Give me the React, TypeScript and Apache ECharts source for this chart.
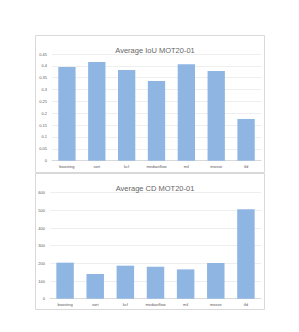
import React, { useEffect, useRef } from "react";
import * as echarts from "echarts";

const categories = ["boosting", "sort", "kcf", "medianflow", "mil", "mosse", "tld"];
const iouValues = [0.395, 0.416, 0.383, 0.336, 0.407, 0.378, 0.176];
const cdValues = [204, 140, 187, 181, 166, 202, 506];
const iouTitle = "Average IoU MOT20-01";
const cdTitle = "Average CD MOT20-01";

const barColor = "#8fb6e3";
const textColor = "#595959";
const font = "Liberation Sans";

export default function App() {
  const ref = useRef<HTMLDivElement>(null);
  useEffect(() => {
    if (!ref.current) return;
    const chart = echarts.init(ref.current, null, { renderer: "svg" });
    const axisLabel = { fontSize: 4, color: textColor, fontFamily: font };
    const titleStyle = { fontSize: 7.5, fontWeight: "normal", color: "#666666", fontFamily: font };
    chart.setOption({
      animation: false,
      backgroundColor: "#ffffff",
      title: [
        { text: iouTitle, left: 150, top: 41, textAlign: "center", textStyle: titleStyle },
        { text: cdTitle, left: 150, top: 179, textAlign: "center", textStyle: titleStyle },
      ],
      graphic: [
        {
          type: "rect",
          shape: { x: 35.5, y: 35.5, width: 229, height: 137 },
          style: { fill: "none", stroke: "#d9d9d9", lineWidth: 1 },
          z: -1,
        },
        {
          type: "rect",
          shape: { x: 35.5, y: 173.5, width: 229, height: 136 },
          style: { fill: "none", stroke: "#d9d9d9", lineWidth: 1 },
          z: -1,
        },
      ],
      grid: [
        { left: 52, right: 38, top: 54, bottom: 171.3 },
        { left: 50, right: 38, top: 192.7, bottom: 33.3 },
      ],
      xAxis: [0, 1].map((i) => ({
        type: "category",
        gridIndex: i,
        data: categories,
        axisLine: { lineStyle: { color: "#d9d9d9" } },
        axisTick: { show: false },
        axisLabel: { ...axisLabel, margin: 4, interval: 0 },
      })),
      yAxis: [
        {
          type: "value",
          gridIndex: 0,
          min: 0,
          max: 0.45,
          interval: 0.05,
          axisLine: { show: false },
          axisTick: { show: false },
          splitLine: { lineStyle: { color: "#eeeeee" } },
          axisLabel: { ...axisLabel, margin: 5 },
        },
        {
          type: "value",
          gridIndex: 1,
          min: 0,
          max: 600,
          interval: 100,
          axisLine: { show: false },
          axisTick: { show: false },
          splitLine: { lineStyle: { color: "#eeeeee" } },
          axisLabel: { ...axisLabel, margin: 5 },
        },
      ],
      series: [
        {
          type: "bar",
          xAxisIndex: 0,
          yAxisIndex: 0,
          data: iouValues,
          barCategoryGap: "42%",
          itemStyle: { color: barColor },
        },
        {
          type: "bar",
          xAxisIndex: 1,
          yAxisIndex: 1,
          data: cdValues,
          barCategoryGap: "42%",
          itemStyle: { color: barColor },
        },
      ],
    });
    return () => chart.dispose();
  }, []);
  return (
    <div
      ref={ref}
      style={{ position: "fixed", left: 0, top: 0, width: 299, height: 332, background: "#fff" }}
    />
  );
}
